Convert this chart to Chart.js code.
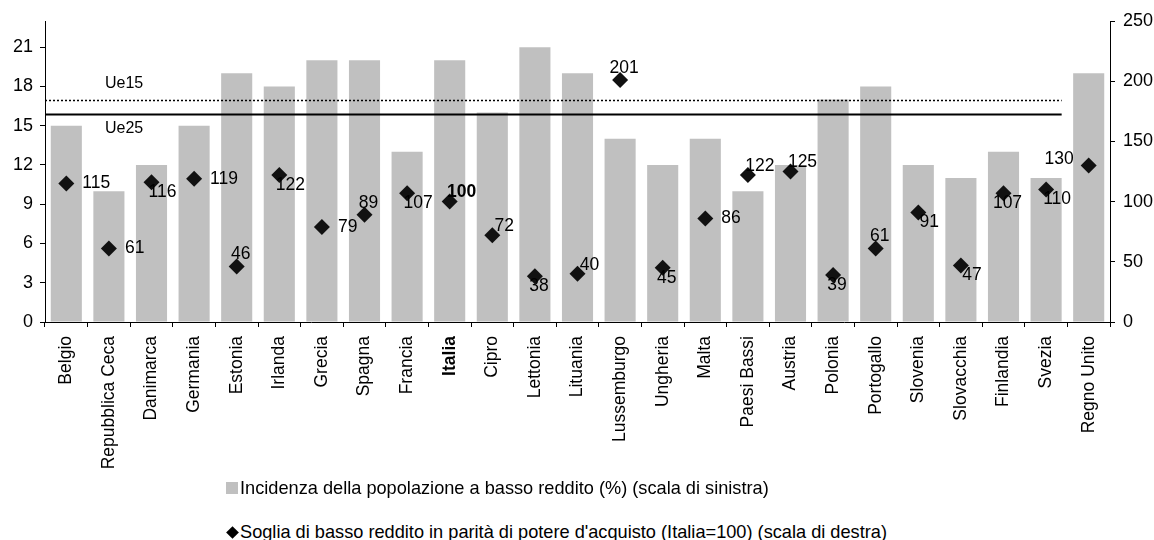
<!DOCTYPE html>
<html>
<head>
<meta charset="utf-8">
<script src="https://cdn.jsdelivr.net/npm/chart.js@4.4.1/dist/chart.umd.min.js"></script>
<style>
  body { margin: 0; background: #fff; font-family: "Liberation Sans", Arial, sans-serif; }
  #wrap { position: relative; width: 1154px; height: 540px; }
  #chart-box { position: absolute; left: 0; top: 0; width: 1154px; height: 480px; }
  .legend-row { position: absolute; left: 226px; font-size: 18.2px; color: #000; display: flex; align-items: center; white-space: nowrap; line-height: 20px; }
  .sq { width: 12px; height: 12px; background: #c0c0c0; margin-right: 2px; }
  .dia { width: 9px; height: 9px; background: #000; transform: rotate(45deg); margin: 0 3px 0 2px; }
</style>
</head>
<body>
<div id="wrap">
  <div id="chart-box"><canvas id="grafico"></canvas></div>
  <div class="legend-row" style="top:478px"><span class="sq"></span>Incidenza della popolazione a basso reddito (%) (scala di sinistra)</div>
  <div class="legend-row" style="top:522px"><span class="dia"></span>Soglia di basso reddito in parità di potere d'acquisto (Italia=100) (scala di destra)</div>
</div>
<script>
// dati
const paesi = ['Belgio', 'Repubblica Ceca', 'Danimarca', 'Germania', 'Estonia', 'Irlanda', 'Grecia', 'Spagna',
  'Francia', 'Italia', 'Cipro', 'Lettonia', 'Lituania', 'Lussemburgo', 'Ungheria', 'Malta', 'Paesi Bassi',
  'Austria', 'Polonia', 'Portogallo', 'Slovenia', 'Slovacchia', 'Finlandia', 'Svezia', 'Regno Unito'];
const incidenza = [15, 10, 12, 15, 19, 18, 20, 20, 13, 20, 16, 21, 19, 14, 12, 14, 10, 12, 17, 18, 12, 11, 13, 11, 19];
const soglia = [115, 61, 116, 119, 46, 122, 79, 89, 107, 100, 72, 38, 40, 201, 45, 86, 122, 125, 39, 61, 91, 47, 107, 110, 130];
const mediaUe = [17, 15.9];
const nomiUe = ['Ue15', 'Ue25'];
const maxSinistra = 23;
const ultimoTickSinistra = 21;
const passoSinistra = 3;
const maxDestra = 250;
const passoDestra = 50;

// dove mettere l'etichetta di ogni rombo (r, l, a, b, ar, br)
const posEtichette = ['r', 'r', 'br', 'r', 'a', 'br', 'r', 'a', 'br', 'ar', 'ar', 'b', 'ar', 'a', 'b', 'r', 'ar', 'ar', 'b', 'a', 'br', 'br', 'b', 'br', 'l'];
const spostamenti = {
  r: { dx: 16, dy: 0, align: 'left' },
  l: { dx: -15, dy: -6, align: 'right' },
  a: { dx: 4, dy: -12, align: 'center' },
  b: { dx: 4, dy: 10, align: 'center' },
  ar: { dx: 12, dy: -9, align: 'center' },
  br: { dx: 11, dy: 10, align: 'center' }
};

const FONT = '"Liberation Sans", Arial, sans-serif';
Chart.defaults.font.family = FONT;
Chart.defaults.color = '#000';

const lineeUe = {
  id: 'lineeUe',
  afterDatasetDraw(chart, args) {
    if (args.index !== 0) return;
    const ctx = chart.ctx;
    const y = chart.scales.y;
    const barre = chart.getDatasetMeta(0).data;
    const ultima = barre[barre.length - 2];
    const xFine = ultima.x + ultima.width / 2;
    const xInizio = chart.chartArea.left;
    ctx.save();
    mediaUe.forEach((v, i) => {
      const py = Math.round(y.getPixelForValue(v)) + 0.5;
      ctx.beginPath();
      ctx.strokeStyle = '#000';
      if (i === 0) {
        ctx.lineWidth = 1.5;
        ctx.setLineDash([2, 2]);
      } else {
        ctx.lineWidth = 2;
        ctx.setLineDash([]);
      }
      ctx.moveTo(xInizio, py);
      ctx.lineTo(xFine, py);
      ctx.stroke();
      ctx.setLineDash([]);
      ctx.fillStyle = '#000';
      ctx.font = '16px ' + FONT;
      ctx.textAlign = 'left';
      ctx.textBaseline = 'middle';
      const off = i === 0 ? -17 : 14;
      ctx.fillText(nomiUe[i], xInizio + 60, py + off);
    });
    ctx.restore();
  }
};

const etichetteRombi = {
  id: 'etichetteRombi',
  afterDatasetsDraw(chart) {
    const ctx = chart.ctx;
    const punti = chart.getDatasetMeta(1).data;
    ctx.save();
    ctx.fillStyle = '#000';
    ctx.textBaseline = 'middle';
    punti.forEach((p, i) => {
      const s = spostamenti[posEtichette[i]];
      ctx.font = (paesi[i] === 'Italia' ? 'bold ' : '') + '17.5px ' + FONT;
      ctx.textAlign = s.align;
      ctx.fillText(String(soglia[i]), p.x + s.dx, p.y + s.dy);
    });
    ctx.restore();
  }
};

new Chart(document.getElementById('grafico'), {
  type: 'bar',
  data: {
    labels: paesi,
    datasets: [
      {
        type: 'bar',
        label: 'Incidenza della popolazione a basso reddito (%) (scala di sinistra)',
        data: incidenza,
        backgroundColor: '#c0c0c0',
        borderWidth: 0,
        barPercentage: 0.73,
        categoryPercentage: 1,
        yAxisID: 'y',
        order: 2
      },
      {
        type: 'line',
        label: "Soglia di basso reddito in parità di potere d'acquisto (Italia=100) (scala di destra)",
        data: soglia,
        showLine: false,
        pointStyle: 'rectRot',
        pointRadius: 8,
        pointBackgroundColor: '#111',
        pointBorderColor: '#111',
        pointBorderWidth: 0,
        yAxisID: 'y2',
        order: 1
      }
    ]
  },
  options: {
    responsive: true,
    maintainAspectRatio: false,
    animation: false,
    layout: { padding: { top: 21, left: 0, right: 0, bottom: 0 } },
    plugins: {
      legend: { display: false },
      tooltip: { enabled: false }
    },
    scales: {
      x: {
        grid: { display: true, drawOnChartArea: false, drawTicks: true, tickLength: 5, color: '#000', offset: true },
        border: { color: '#000', width: 1 },
        ticks: {
          autoSkip: false,
          maxRotation: 90,
          minRotation: 90,
          padding: 9,
          color: '#000',
          font: (c) => ({ size: 17.5, weight: paesi[c.index] === 'Italia' ? 'bold' : 'normal' })
        },
        afterFit(scale) { scale.height = 158; }
      },
      y: {
        position: 'left',
        min: 0,
        max: maxSinistra,
        bounds: 'data',
        grid: { drawOnChartArea: false, drawTicks: true, tickLength: 5, color: '#000' },
        border: { color: '#000', width: 1 },
        ticks: { stepSize: passoSinistra, padding: 7, font: { size: 18 }, color: '#000' },
        afterBuildTicks(scale) { scale.ticks = scale.ticks.filter((t) => t.value <= ultimoTickSinistra); },
        afterFit(scale) { scale.width = 45; }
      },
      y2: {
        position: 'right',
        min: 0,
        max: maxDestra,
        grid: { drawOnChartArea: false, drawTicks: true, tickLength: 5, color: '#000' },
        border: { color: '#000', width: 1 },
        ticks: { stepSize: passoDestra, padding: 8, font: { size: 18 }, color: '#000' },
        afterFit(scale) { scale.width = 44; }
      }
    }
  },
  plugins: [lineeUe, etichetteRombi]
});
</script>
</body>
</html>
